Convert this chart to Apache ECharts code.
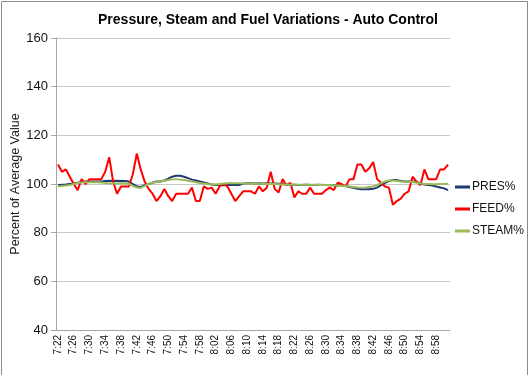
<!DOCTYPE html>
<html>
  <head>
    <meta charset="utf-8" />
    <script src="https://cdn.jsdelivr.net/npm/echarts@6/dist/echarts.min.js"></script>
  </head>
  <body>
    <style>
      #main,
      html,
      body {
        width: 100%;
        height: 100%;
        margin: 0;
        overflow: hidden;
        background: #fff;
      }
    </style>
    <div id="main"></div>
    <script type="text/javascript">
      // time of each reading (one per minute)
      var times = [
        '7:22','7:23','7:24','7:25','7:26','7:27','7:28','7:29','7:30','7:31',
        '7:32','7:33','7:34','7:35','7:36','7:37','7:38','7:39','7:40','7:41',
        '7:42','7:43','7:44','7:45','7:46','7:47','7:48','7:49','7:50','7:51',
        '7:52','7:53','7:54','7:55','7:56','7:57','7:58','7:59','8:00','8:01',
        '8:02','8:03','8:04','8:05','8:06','8:07','8:08','8:09','8:10','8:11',
        '8:12','8:13','8:14','8:15','8:16','8:17','8:18','8:19','8:20','8:21',
        '8:22','8:23','8:24','8:25','8:26','8:27','8:28','8:29','8:30','8:31',
        '8:32','8:33','8:34','8:35','8:36','8:37','8:38','8:39','8:40','8:41',
        '8:42','8:43','8:44','8:45','8:46','8:47','8:48','8:49','8:50','8:51',
        '8:52','8:53','8:54','8:55','8:56','8:57','8:58','8:59','9:00','9:01'
      ];

      var pres = [
        99.5, 99.7, 99.8, 100, 100.2, 100.5, 100.8, 101, 101, 101,
        101, 101, 101.2, 101.3, 101.2, 101.3, 101.2, 101.2, 101, 100,
        99, 98.8, 99.5, 100, 100.5, 101, 101, 101.5, 102.2, 103,
        103.4, 103.4, 103, 102.4, 101.8, 101.4, 101, 100.6, 100.2, 99.8,
        99.6, 99.6, 99.5, 99.6, 99.7, 99.6, 99.6, 100.2, 100.3, 100.3,
        100.2, 100.3, 100.2, 100.3, 100.2, 100.2, 100.1, 100, 99.8, 99.6,
        99.7, 99.6, 99.6, 99.7, 99.6, 99.6, 99.7, 99.6, 99.6, 99.5,
        99.6, 99.5, 99.4, 99.2, 98.8, 98.4, 98, 97.8, 97.8, 97.8,
        98, 98.5, 99.5, 100.5, 101.2, 101.6, 101.6, 101.2, 101, 101,
        101, 100.8, 100.2, 99.8, 99.6, 99.4, 99, 98.6, 98.2, 97.5
      ];

      var feed = [
        108, 105, 106, 103, 100, 97.5, 102, 100, 102, 102,
        102, 102, 105, 111, 101, 96, 99, 99, 99, 104,
        112.5, 106, 101, 98, 96, 93, 95, 98, 95, 93,
        96, 96, 96, 96, 98.5, 93, 93, 99, 98, 98.5,
        96, 99, 100, 99, 96, 93, 95, 97, 97, 97,
        96, 99, 97, 98.5, 105, 98, 96.5, 102, 99.5, 100.5,
        94.5, 97, 96, 96, 98.5, 96, 96, 96, 97.5, 98.5,
        97.5, 100.5, 100, 99, 102, 102, 108, 108, 105, 106.5,
        109, 102, 100.5, 99, 98.5, 91.5, 93, 94, 96, 97,
        103, 101, 99.5, 106, 102, 102, 102, 106, 106, 108
      ];

      var steam = [
        99, 99.2, 99.4, 99.6, 100, 100.4, 100.6, 100.7, 100.7, 100.7,
        100.7, 100.6, 100.4, 100.2, 100.2, 100.2, 100.3, 100.2, 100, 99.2,
        98.6, 98.4, 99.2, 100, 100.5, 100.8, 101, 101.3, 101.6, 101.9,
        102, 101.8, 101.6, 101.3, 101, 100.7, 100.4, 100.2, 100, 99.9,
        99.8, 100, 100.2, 100.3, 100.4, 100.3, 100.3, 100.2, 100.2, 100.1,
        100.2, 100.1, 100.2, 100, 100.1, 100, 99.9, 99.8, 99.8, 99.7,
        99.8, 99.7, 99.7, 99.8, 99.7, 99.7, 99.6, 99.7, 99.6, 99.6,
        99.5, 99.4, 99.3, 99.2, 99, 98.8, 98.6, 98.5, 98.6, 98.8,
        99, 99.6, 100.4, 101, 101.4, 101.4, 101.2, 101, 100.9, 100.9,
        100.8, 100.5, 100.2, 100, 100, 99.9, 99.9, 100, 100, 100.1
      ];

      var myChart = echarts.init(document.getElementById('main'));
      var font = 'Liberation Sans';

      function lineSeries(name, data, color) {
        return {
          name: name,
          type: 'line',
          data: data,
          symbol: 'none',
          lineStyle: { color: color, width: 2 },
          itemStyle: { color: color },
          animation: false
        };
      }

      var option = {
        backgroundColor: '#fff',
        textStyle: { fontFamily: font },
        title: {
          text: 'Pressure, Steam and Fuel Variations - Auto Control',
          left: 263,
          textAlign: 'center',
          top: 8,
          textStyle: { fontSize: 14, fontWeight: 'bold', color: '#000', fontFamily: font }
        },
        legend: {
          orient: 'vertical',
          left: 450,
          top: 176,
          itemWidth: 15,
          itemHeight: 3,
          itemGap: 10,
          icon: 'rect',
          textStyle: { fontSize: 12, color: '#111', fontFamily: font, padding: [0, 0, 0, -3] },
          data: ['PRES%', 'FEED%', 'STEAM%']
        },
        grid: { left: 56, right: 80, top: 38, bottom: 45, outerBoundsMode: 'none' },
        xAxis: {
          type: 'category',
          data: times,
          boundaryGap: true,
          axisLine: { lineStyle: { color: '#a6a6a6' } },
          axisTick: { interval: 0, length: 4, lineStyle: { color: '#a6a6a6' } },
          axisLabel: { interval: 3, rotate: 90, fontSize: 10, color: '#111', margin: 5 }
        },
        yAxis: {
          type: 'value',
          min: 40,
          max: 160,
          interval: 20,
          axisLine: { show: true, lineStyle: { color: '#a6a6a6' } },
          axisTick: { show: true, length: 5, lineStyle: { color: '#a6a6a6' } },
          axisLabel: { fontSize: 13, color: '#111', margin: 8 },
          splitLine: { lineStyle: { color: '#c8c8c8' } }
        },
        graphic: [{
          type: 'rect',
          shape: { x: 1.5, y: 1.5, width: 526, height: 390 },
          style: { fill: null, stroke: '#8c8c8c', lineWidth: 1 },
          silent: true
        }, {
          // y axis title, placed by hand so it sits where the original has it
          type: 'text',
          x: 16,
          y: 184,
          rotation: Math.PI / 2,
          style: {
            text: 'Percent of Average Value',
            fill: '#222',
            font: '12.5px "Liberation Sans"',
            textAlign: 'center',
            textVerticalAlign: 'middle'
          },
          silent: true
        }],
        series: [
          lineSeries('PRES%', pres, '#1f3a6e'),
          lineSeries('FEED%', feed, '#ff0000'),
          lineSeries('STEAM%', steam, '#9bbb59')
        ]
      };

      myChart.setOption(option);
    </script>
  </body>
</html>
